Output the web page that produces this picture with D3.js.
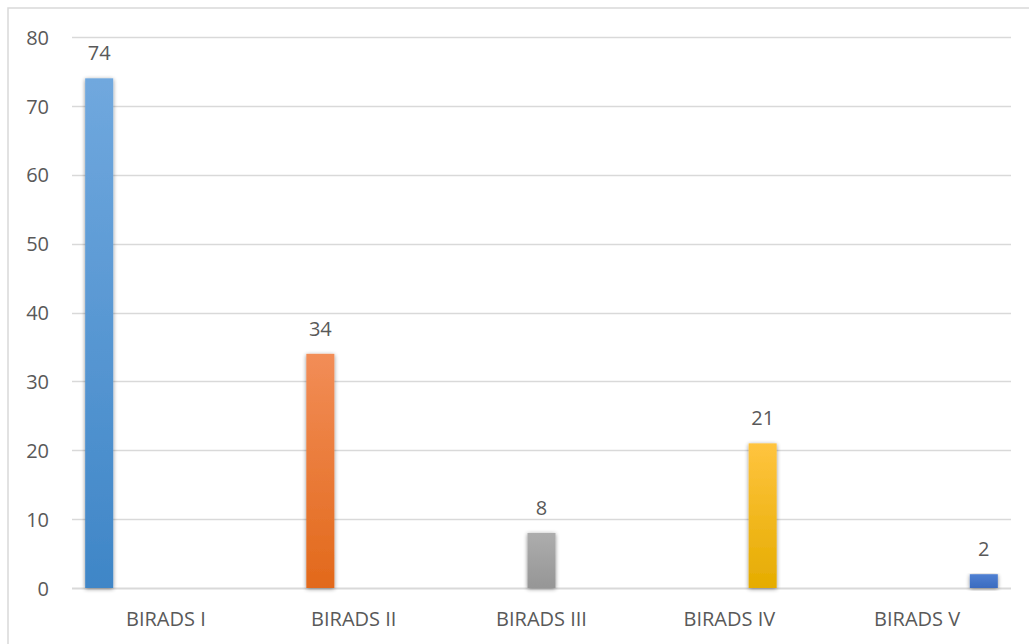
<!DOCTYPE html>
<html>
<head>
<meta charset="utf-8">
<script src="https://cdn.jsdelivr.net/npm/d3@7"></script>
<style>
  html, body { margin: 0; padding: 0; background: #fff; }
  svg { display: block; }
  text { font-family: "Open Sans", "Liberation Sans", sans-serif; fill: #595959; }
</style>
</head>
<body>
<svg id="chart" width="1029" height="644"></svg>
<script>
// Category labels, one per BI-RADS class
const categories = ["BIRADS I", "BIRADS II", "BIRADS III", "BIRADS IV", "BIRADS V"];
// Each class is its own series; only its own category has a count
const seriesNames = ["BIRADS I", "BIRADS II", "BIRADS III", "BIRADS IV", "BIRADS V"];
const counts = [74, 34, 8, 21, 2];
const yTicks = [0, 10, 20, 30, 40, 50, 60, 70, 80];
// Gradient stops (top, bottom) for each series
const colorTop = ["#70a8de", "#f28d57", "#adadad", "#ffc43f", "#4f80d3"];
const colorBottom = ["#3f86c7", "#e2691b", "#969696", "#e5ac00", "#3b6bbf"];

const W = 1029, H = 644;
const margin = { left: 72, right: 18, top: 37, bottom: 56 };
const plotW = W - margin.left - margin.right;
const y0 = H - margin.bottom;

const svg = d3.select("#chart");
const defs = svg.append("defs");

// Soft shadow around the bars
const f = defs.append("filter").attr("id", "shadow")
  .attr("x", "-40%").attr("y", "-10%").attr("width", "180%").attr("height", "125%");
f.append("feGaussianBlur").attr("in", "SourceAlpha").attr("stdDeviation", 2.2).attr("result", "b");
f.append("feOffset").attr("in", "b").attr("dx", 0).attr("dy", 1).attr("result", "o");
f.append("feComponentTransfer").attr("in", "o").attr("result", "s")
  .append("feFuncA").attr("type", "linear").attr("slope", 0.45);
const fm = f.append("feMerge");
fm.append("feMergeNode").attr("in", "s");
fm.append("feMergeNode").attr("in", "SourceGraphic");

seriesNames.forEach((s, i) => {
  const g = defs.append("linearGradient").attr("id", "grad" + i)
    .attr("x1", 0).attr("y1", 0).attr("x2", 0).attr("y2", 1);
  g.append("stop").attr("offset", "0%").attr("stop-color", colorTop[i]);
  g.append("stop").attr("offset", "100%").attr("stop-color", colorBottom[i]);
});

// Outer chart frame (runs past the right and bottom edges)
svg.append("rect")
  .attr("x", 8).attr("y", 8).attr("width", 1060).attr("height", 680)
  .attr("fill", "none").attr("stroke", "#d9d9d9").attr("stroke-width", 1.5);

const y = d3.scaleLinear().domain([0, 80]).range([y0, margin.top]);
const x0 = d3.scaleBand().domain(categories).range([margin.left, margin.left + plotW]);
const groupW = x0.bandwidth() * 0.888;
const x1 = d3.scaleBand().domain(seriesNames).range([0, groupW])
  .paddingInner(0.16).paddingOuter(0.08);

// Gridlines
svg.append("g").selectAll("line").data(yTicks).join("line")
  .attr("x1", margin.left).attr("x2", margin.left + plotW)
  .attr("y1", d => Math.round(y(d)) + 0.5).attr("y2", d => Math.round(y(d)) + 0.5)
  .attr("stroke", "#d9d9d9").attr("stroke-width", d => d === 0 ? 2 : 1.3);

// Y axis labels
const yAxis = d3.axisLeft(y).tickValues(yTicks).tickSize(0).tickPadding(0);
const ya = svg.append("g").attr("transform", `translate(49,0)`).call(yAxis);
ya.select(".domain").remove();
ya.selectAll("text").attr("font-size", 20).attr("fill", "#595959")
  .attr("font-family", "'Open Sans', sans-serif").attr("dy", "0.36em");

// X axis labels
const xAxis = d3.axisBottom(x0).tickSize(0).tickPadding(0);
const xa = svg.append("g").attr("transform", `translate(0,${y0 + 38})`).call(xAxis);
xa.select(".domain").remove();
xa.selectAll("text").attr("font-size", 20).attr("fill", "#595959")
  .attr("font-family", "'Open Sans', sans-serif").attr("dy", 0);

// Bars: series i sits in category i
const barX = i => x0(categories[i]) + (x0.bandwidth() - groupW) / 2 + x1(seriesNames[i]);
svg.append("g").selectAll("rect").data(counts).join("rect")
  .attr("x", (d, i) => barX(i))
  .attr("y", d => y(d))
  .attr("width", x1.bandwidth())
  .attr("height", d => y0 - y(d))
  .attr("fill", (d, i) => `url(#grad${i})`)
  .attr("filter", "url(#shadow)");

// Value labels
svg.append("g").selectAll("text").data(counts).join("text")
  .attr("x", (d, i) => barX(i) + x1.bandwidth() / 2)
  .attr("y", d => y(d) - 18)
  .attr("text-anchor", "middle")
  .attr("font-size", 20)
  .attr("fill", "#404040")
  .text(d => d);
</script>
</body>
</html>
